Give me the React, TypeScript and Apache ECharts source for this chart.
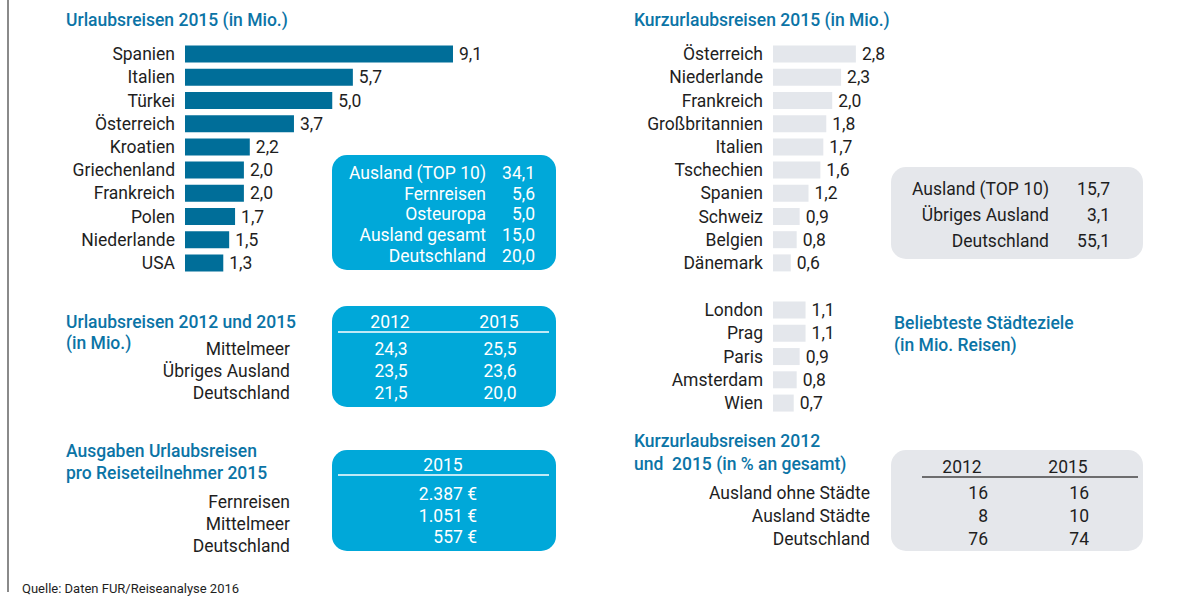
import React, { useEffect, useRef } from "react";
import * as echarts from "echarts";

const urlaubCountries = ["Spanien", "Italien", "Türkei", "Österreich", "Kroatien", "Griechenland", "Frankreich", "Polen", "Niederlande", "USA"];
const urlaubValues = [9.1, 5.7, 5.0, 3.7, 2.2, 2.0, 2.0, 1.7, 1.5, 1.3];
const kurzCountries = ["Österreich", "Niederlande", "Frankreich", "Großbritannien", "Italien", "Tschechien", "Spanien", "Schweiz", "Belgien", "Dänemark"];
const kurzValues = [2.8, 2.3, 2.0, 1.8, 1.7, 1.6, 1.2, 0.9, 0.8, 0.6];
const cities = ["London", "Prag", "Paris", "Amsterdam", "Wien"];
const cityValues = [1.1, 1.1, 0.9, 0.8, 0.7];

const urlaubSummaryLabels = ["Ausland (TOP 10)", "Fernreisen", "Osteuropa", "Ausland gesamt", "Deutschland"];
const urlaubSummaryValues = [34.1, 5.6, 5.0, 15.0, 20.0];
const compareYears = ["2012", "2015"];
const compareLabels = ["Mittelmeer", "Übriges Ausland", "Deutschland"];
const compare2012 = [24.3, 23.5, 21.5];
const compare2015 = [25.5, 23.6, 20.0];
const spendYear = "2015";
const spendLabels = ["Fernreisen", "Mittelmeer", "Deutschland"];
const spendValues = [2387, 1051, 557];
const kurzSummaryLabels = ["Ausland (TOP 10)", "Übriges Ausland", "Deutschland"];
const kurzSummaryValues = [15.7, 3.1, 55.1];
const shareYears = ["2012", "2015"];
const shareLabels = ["Ausland ohne Städte", "Ausland Städte", "Deutschland"];
const share2012 = [16, 8, 76];
const share2015 = [16, 10, 74];

const FONT = "Roboto, 'Noto Sans', sans-serif";
const FS = 17.5;
const DARK = "#006E99";
const CYAN = "#00A8D9";
const GRAY_BAR = "#E4E7EC";
const GRAY_BOX = "#E5E7EB";
const TITLE = "#0B74A6";
const TXT = "#1E1E1E";

const fmt1 = (v: number) => v.toFixed(1).replace(".", ",");
const fmtEuro = (v: number) => String(v).replace(/\B(?=(\d{3})+(?!\d))/g, ".") + " €";

function txt(text: string, x: number, y: number, opts: any = {}) {
  const align = opts.align || "left";
  return {
    type: "text",
    x,
    y,
    silent: true,
    style: {
      text,
      fill: opts.color || TXT,
      font: `${opts.weight || "normal"} ${opts.size || FS}px ${FONT}`,
      align,
      textAlign: align,
      verticalAlign: "middle",
      textVerticalAlign: "middle",
    },
  };
}
const title = (text: string, x: number, y: number) => txt(text, x, y, { color: TITLE, weight: 500, size: FS });

function buildGraphic() {
  const g: any[] = [];
  // left border line
  g.push({ type: "line", shape: { x1: 8, y1: 0, x2: 8, y2: 592 }, style: { stroke: "#8A8A8A", lineWidth: 2 } });

  // titles
  g.push(title("Urlaubsreisen 2015 (in Mio.)", 66, 20));
  g.push(title("Kurzurlaubsreisen 2015 (in Mio.)", 634, 20));
  g.push(title("Urlaubsreisen 2012 und 2015", 66, 322));
  g.push(title("(in Mio.)", 66, 343));
  g.push(title("Ausgaben Urlaubsreisen", 66, 451));
  g.push(title("pro Reiseteilnehmer 2015", 66, 473));
  g.push(title("Beliebteste Städteziele", 894, 323));
  g.push(title("(in Mio. Reisen)", 894, 345));
  g.push(title("Kurzurlaubsreisen 2012", 634, 441));
  g.push(title("und  2015 (in % an gesamt)", 634, 464));

  // box 1: Urlaub summary
  g.push({ type: "rect", shape: { x: 332, y: 155, width: 224, height: 115, r: 15 }, style: { fill: CYAN } });
  urlaubSummaryLabels.forEach((l, i) => {
    const y = 173 + i * 20.7;
    g.push(txt(l, 486, y, { align: "right", color: "#fff" }));
    g.push(txt(fmt1(urlaubSummaryValues[i]), 535, y, { align: "right", color: "#fff" }));
  });

  // box 2: 2012 vs 2015
  g.push({ type: "rect", shape: { x: 332, y: 306, width: 224, height: 101, r: 15 }, style: { fill: CYAN } });
  g.push(txt(compareYears[0], 390, 322, { align: "center", color: "#fff" }));
  g.push(txt(compareYears[1], 499, 322, { align: "center", color: "#fff" }));
  g.push({ type: "line", shape: { x1: 338, y1: 332, x2: 549, y2: 332 }, style: { stroke: "#fff", lineWidth: 1.5 } });
  compareLabels.forEach((l, i) => {
    const y = 349 + i * 22;
    g.push(txt(l, 290, y, { align: "right" }));
    g.push(txt(fmt1(compare2012[i]), 391, y, { align: "center", color: "#fff" }));
    g.push(txt(fmt1(compare2015[i]), 500, y, { align: "center", color: "#fff" }));
  });

  // box 3: spending
  g.push({ type: "rect", shape: { x: 332, y: 450, width: 224, height: 101, r: 15 }, style: { fill: CYAN } });
  g.push(txt(spendYear, 443, 465, { align: "center", color: "#fff" }));
  g.push({ type: "line", shape: { x1: 338, y1: 475, x2: 549, y2: 475 }, style: { stroke: "#fff", lineWidth: 1.5 } });
  spendLabels.forEach((l, i) => {
    g.push(txt(l, 290, 502 + i * 22, { align: "right" }));
    g.push(txt(fmtEuro(spendValues[i]), 477, 494 + i * 21.5, { align: "right", color: "#fff" }));
  });

  // gray box 1: Kurz summary
  g.push({ type: "rect", shape: { x: 891, y: 167, width: 252, height: 92, r: 15 }, style: { fill: GRAY_BOX } });
  kurzSummaryLabels.forEach((l, i) => {
    const y = 189 + i * 26;
    g.push(txt(l, 1049, y, { align: "right" }));
    g.push(txt(fmt1(kurzSummaryValues[i]), 1110, y, { align: "right" }));
  });

  // gray box 2: shares
  g.push({ type: "rect", shape: { x: 891, y: 450, width: 252, height: 101, r: 15 }, style: { fill: GRAY_BOX } });
  g.push(txt(shareYears[0], 962, 467, { align: "center" }));
  g.push(txt(shareYears[1], 1068, 467, { align: "center" }));
  g.push({ type: "line", shape: { x1: 922, y1: 477, x2: 1138, y2: 477 }, style: { stroke: "#444", lineWidth: 1.5 } });
  shareLabels.forEach((l, i) => {
    const y = 493 + i * 23;
    g.push(txt(l, 870, y, { align: "right" }));
    g.push(txt(String(share2012[i]), 988, y, { align: "right" }));
    g.push(txt(String(share2015[i]), 1089, y, { align: "right" }));
  });

  // source
  g.push(txt("Quelle: Daten FUR/Reiseanalyse 2016", 22, 588, { size: 13 }));
  return g;
}

const labelStyle = { show: true, position: "right", distance: 6, fontSize: FS, color: TXT, fontFamily: FONT, formatter: (p: any) => fmt1(p.value) };
const catAxis = (gridIndex: number, data: string[]) => ({
  type: "category",
  gridIndex,
  data,
  inverse: true,
  axisLine: { show: false },
  axisTick: { show: false },
  splitLine: { show: false },
  axisLabel: { interval: 0, fontSize: FS, color: TXT, fontFamily: FONT, margin: 10 },
});
const valAxis = (gridIndex: number) => ({ type: "value", gridIndex, min: 0, max: 10, show: false, splitLine: { show: false } });

export default function App() {
  const ref = useRef<HTMLDivElement>(null);
  useEffect(() => {
    document.body.style.margin = "0";
    const chart = echarts.init(ref.current!, null, { renderer: "svg" });
    chart.setOption({
      animation: false,
      backgroundColor: "#ffffff",
      textStyle: { fontFamily: FONT },
      grid: [
        { left: 185, top: 42.5, width: 294.5, height: 232 },
        { left: 773, top: 42.5, width: 296, height: 232 },
        { left: 773, top: 298.4, width: 296, height: 116.3 },
      ],
      xAxis: [valAxis(0), valAxis(1), valAxis(2)],
      yAxis: [catAxis(0, urlaubCountries), catAxis(1, kurzCountries), catAxis(2, cities)],
      series: [
        { type: "bar", xAxisIndex: 0, yAxisIndex: 0, data: urlaubValues, barWidth: 17, itemStyle: { color: DARK }, label: labelStyle, silent: true },
        { type: "bar", xAxisIndex: 1, yAxisIndex: 1, data: kurzValues, barWidth: 17, itemStyle: { color: GRAY_BAR }, label: labelStyle, silent: true },
        { type: "bar", xAxisIndex: 2, yAxisIndex: 2, data: cityValues, barWidth: 17, itemStyle: { color: GRAY_BAR }, label: labelStyle, silent: true },
      ],
      graphic: buildGraphic(),
    });
    return () => chart.dispose();
  }, []);
  return <div ref={ref} style={{ width: 1190, height: 597 }} />;
}
